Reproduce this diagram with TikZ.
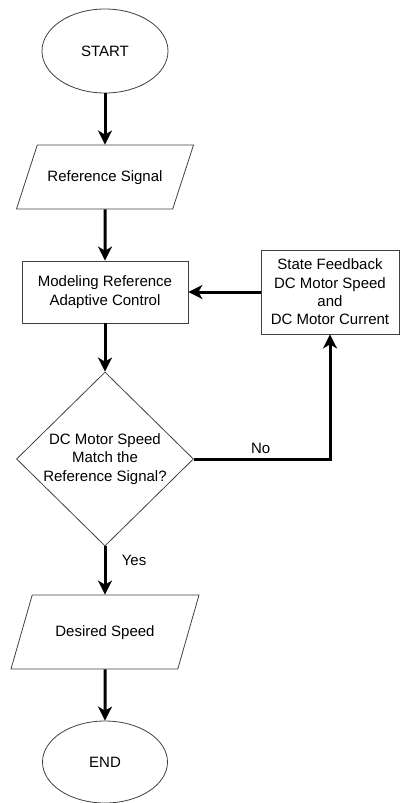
\documentclass[tikz,border=0pt]{standalone}
\usepackage{fontspec}
\setmainfont{Liberation Sans}
\usetikzlibrary{shapes.geometric,arrows.meta}
\begin{document}
\begin{tikzpicture}[x=1pt,y=-1pt,
	box/.style={draw=black!75,line width=0.8pt,inner sep=0pt,align=center,font=\fontsize{15}{18.3}\selectfont},
	term/.style={box,ellipse},
	io/.style={box,trapezium,trapezium left angle=#1,trapezium right angle=180-#1,trapezium stretches body,text height=11pt,text depth=3pt},
	proc/.style={box,rectangle},
	dec/.style={box,diamond},
	arr/.style={line width=3pt,-{Stealth[length=14pt,width=14pt,inset=4pt]}},
	lbl/.style={font=\fontsize{15}{18}\selectfont}]
	\useasboundingbox (0,0) rectangle (399,803);
	\node[term,minimum width=126,minimum height=84] (start) at (105,51) {START};
	\node[io=72,inner ysep=25pt,minimum width=177] (refsig) at (105,177) {Reference Signal};
	\node[proc,minimum width=166,minimum height=62] (model) at (105,292) {Modeling Reference\\Adaptive Control};
	\node[proc,minimum width=138,minimum height=84] (state) at (330,292) {State Feedback\\DC Motor Speed\\and\\DC Motor Current};
	\node[dec,minimum width=177,minimum height=168] (match) at (105,459) {DC Motor Speed\\Match the\\Reference Signal?};
	\node[io=74,inner ysep=30pt,minimum width=188] (desired) at (105,632) {Desired Speed};
	\node[term,minimum width=125,minimum height=82] (finish) at (105,762) {END};
	% connectors
	\draw[arr] (start)--(refsig);
	\draw[arr] (refsig)--(model);
	\draw[arr] (model)--(match);
	\draw[arr] (state)--(model);
	\draw[arr] (match.east)-|node[lbl,pos=0.245,above=1pt]{No}(state.south);
	\draw[arr] (match)--node[lbl,pos=0.3,right=12pt]{Yes}(desired);
	\draw[arr] (desired)--(finish);
\end{tikzpicture}
\end{document}
